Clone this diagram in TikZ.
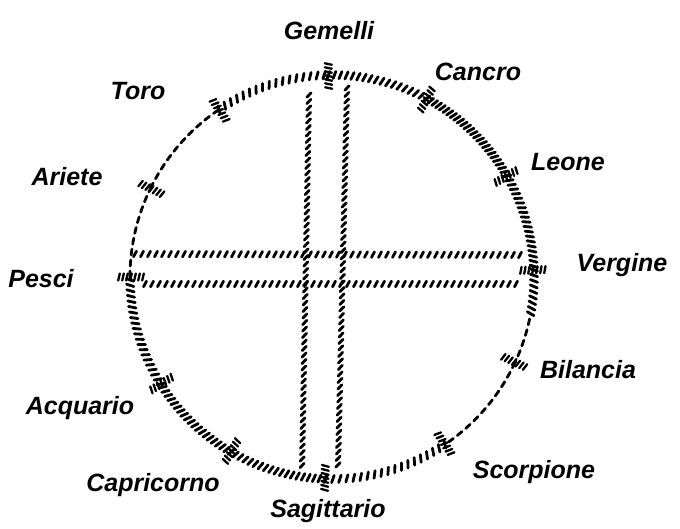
\documentclass[tikz,border=0pt]{standalone}
\usepackage{fontspec}
\setmainfont{Liberation Sans}
\usetikzlibrary{calc,decorations.markings}
\tikzset{
  ink/.style={line width=2.8pt, line cap=round},
  hatch/.style={postaction={decorate,decoration={markings,
      mark=between positions 0 and 1 step #1 with {\draw[ink] (-1.3pt,-3.6pt) -- (1.3pt,3.6pt);}}}},
  hatch/.default=5pt,
  hatchH/.style={postaction={decorate,decoration={markings,
      mark=between positions 0 and 1 step 7pt with {\draw[ink] (-1.5pt,-2.8pt) -- (1.5pt,2.8pt);}}}},
  hatchV/.style={postaction={decorate,decoration={markings,
      mark=between positions 0 and 1 step 6.5pt with {\draw[ink] (-2.2pt,2pt) -- (2.2pt,-2pt);}}}},
  dashseg/.style={draw, line width=2.8pt, line cap=round, dash pattern=on 6pt off 5pt},
  ticksign/.style={postaction={decorate,decoration={markings,
      mark=between positions 0 and 1 step 4pt with {\draw[line width=2.3pt,line cap=round] (-0.8pt,-3.5pt) -- (0.8pt,3.5pt);}}}},
  lab/.style={font=\fontsize{25}{30}\selectfont\bfseries\itshape, inner sep=0pt},
}
\begin{document}
\begin{tikzpicture}[x=1pt,y=1pt]
\useasboundingbox (0,0) rectangle (680,528);
\coordinate (c) at (332,251);
% circle arcs between the signs
\path[hatch=7pt] ($(c)+(124:202)$) arc[start angle=124, end angle=91, radius=202];
\path[hatch=6pt] ($(c)+(91:202)$) arc[start angle=91, end angle=62, radius=202];
\path[hatch=4.5pt] ($(c)+(62:202)$) arc[start angle=62, end angle=30, radius=202];
\path[hatch=5pt] ($(c)+(30:202)$) arc[start angle=30, end angle=2, radius=202];
\path[hatch=5.5pt] ($(c)+(2:202)$) arc[start angle=2, end angle=-12, radius=202];
\path[dashseg] ($(c)+(-12:202)$) arc[start angle=-12, end angle=-25, radius=202];
\path[dashseg] ($(c)+(-25:202)$) arc[start angle=-25, end angle=-56, radius=202];
\path[hatch=7pt] ($(c)+(-56:202)$) arc[start angle=-56, end angle=-92, radius=202];
\path[hatch=5.5pt] ($(c)+(-92:202)$) arc[start angle=-92, end angle=-120, radius=202];
\path[hatch=5pt] ($(c)+(-120:202)$) arc[start angle=-120, end angle=-148, radius=202];
\path[hatch=5.5pt] ($(c)+(-148:202)$) arc[start angle=-148, end angle=-180, radius=202];
\path[dashseg] ($(c)+(180:202)$) arc[start angle=180, end angle=154, radius=202];
\path[dashseg] ($(c)+(154:202)$) arc[start angle=154, end angle=124, radius=202];
% sign marks
\foreach \a in {91,62,30,2,-25,-56,-92,-120,-148,180,154,124}
  \path[ticksign] ($(c)+(\a:189)$) -- ($(c)+(\a:215)$);
% cross of double lines
\path[hatchV] (309,433) -- (302,58);
\path[hatchV] (347,440) -- (338,63);
\path[hatchH] (135,274) -- (523,273);
\path[hatchH] (145,244) -- (522,244);
% labels
\node[lab] (gemelli) at (329,497) {Gemelli};
\node[lab] (cancro) at (478,456) {Cancro};
\node[lab] (leone) at (568,366) {Leone};
\node[lab] (vergine) at (622,263) {Vergine};
\node[lab] (bilancia) at (588,158) {Bilancia};
\node[lab] (scorpione) at (534,56) {Scorpione};
\node[lab] (sagittario) at (328,17) {Sagittario};
\node[lab] (capricorno) at (153,43) {Capricorno};
\node[lab] (acquario) at (80,120) {Acquario};
\node[lab] (pesci) at (41,249) {Pesci};
\node[lab] (ariete) at (67,351) {Ariete};
\node[lab] (toro) at (138,437) {Toro};
\end{tikzpicture}
\end{document}
